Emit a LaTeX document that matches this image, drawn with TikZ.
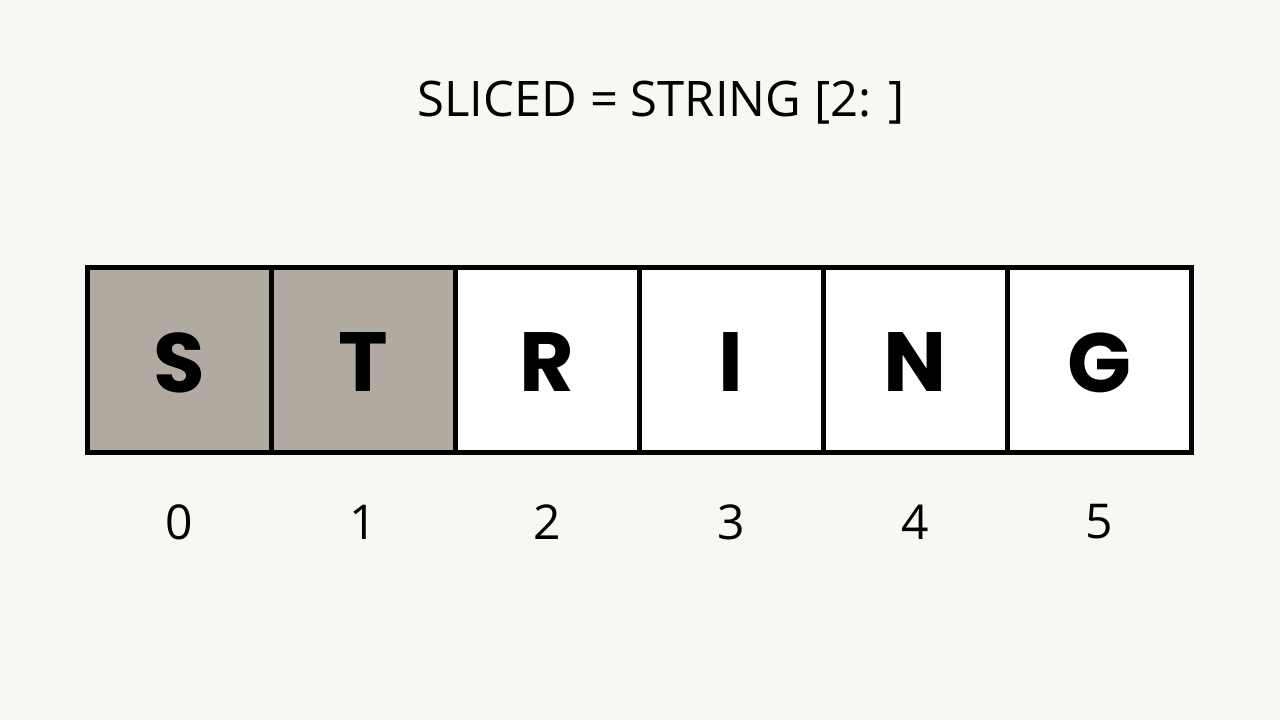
\documentclass[tikz,border=0pt]{standalone}
\usepackage{fontspec}
\setmainfont{Open Sans}
\newfontfamily\cellfont{Poppins}
\definecolor{bgc}{HTML}{F9F7F3}
\definecolor{greyc}{HTML}{B0AAA0}
\begin{document}
\begin{tikzpicture}[x=1pt,y=-1pt,
  cellbox/.style={draw=black,line width=5pt,minimum width=184pt,minimum height=185pt,inner sep=0pt,anchor=center},
  cellletter/.style={font=\cellfont\bfseries\fontsize{84}{90}\selectfont,anchor=center,inner sep=0pt},
  idx/.style={font=\fontsize{48}{50}\selectfont,anchor=center}]
\fill[bgc] (0,0) rectangle (1280,720);
\useasboundingbox (0,0) rectangle (1280,720);
\node[font=\fontsize{49}{50}\selectfont] (title) at (661,103) {SLICED = STRING [2: ]};
\foreach \ch/\i/\col in {S/0/greyc,T/1/greyc,R/2/white,I/3/white,N/4/white,G/5/white}{
  \node[cellbox,fill=\col] (c\i) at ({179+184*\i},359.5) {};
  \node[cellletter] (l\i) at ([yshift=-3pt]c\i.center) {\ch};
  \node[idx] (n\i) at ({179+184*\i},522) {\i};
}
\end{tikzpicture}
\end{document}
